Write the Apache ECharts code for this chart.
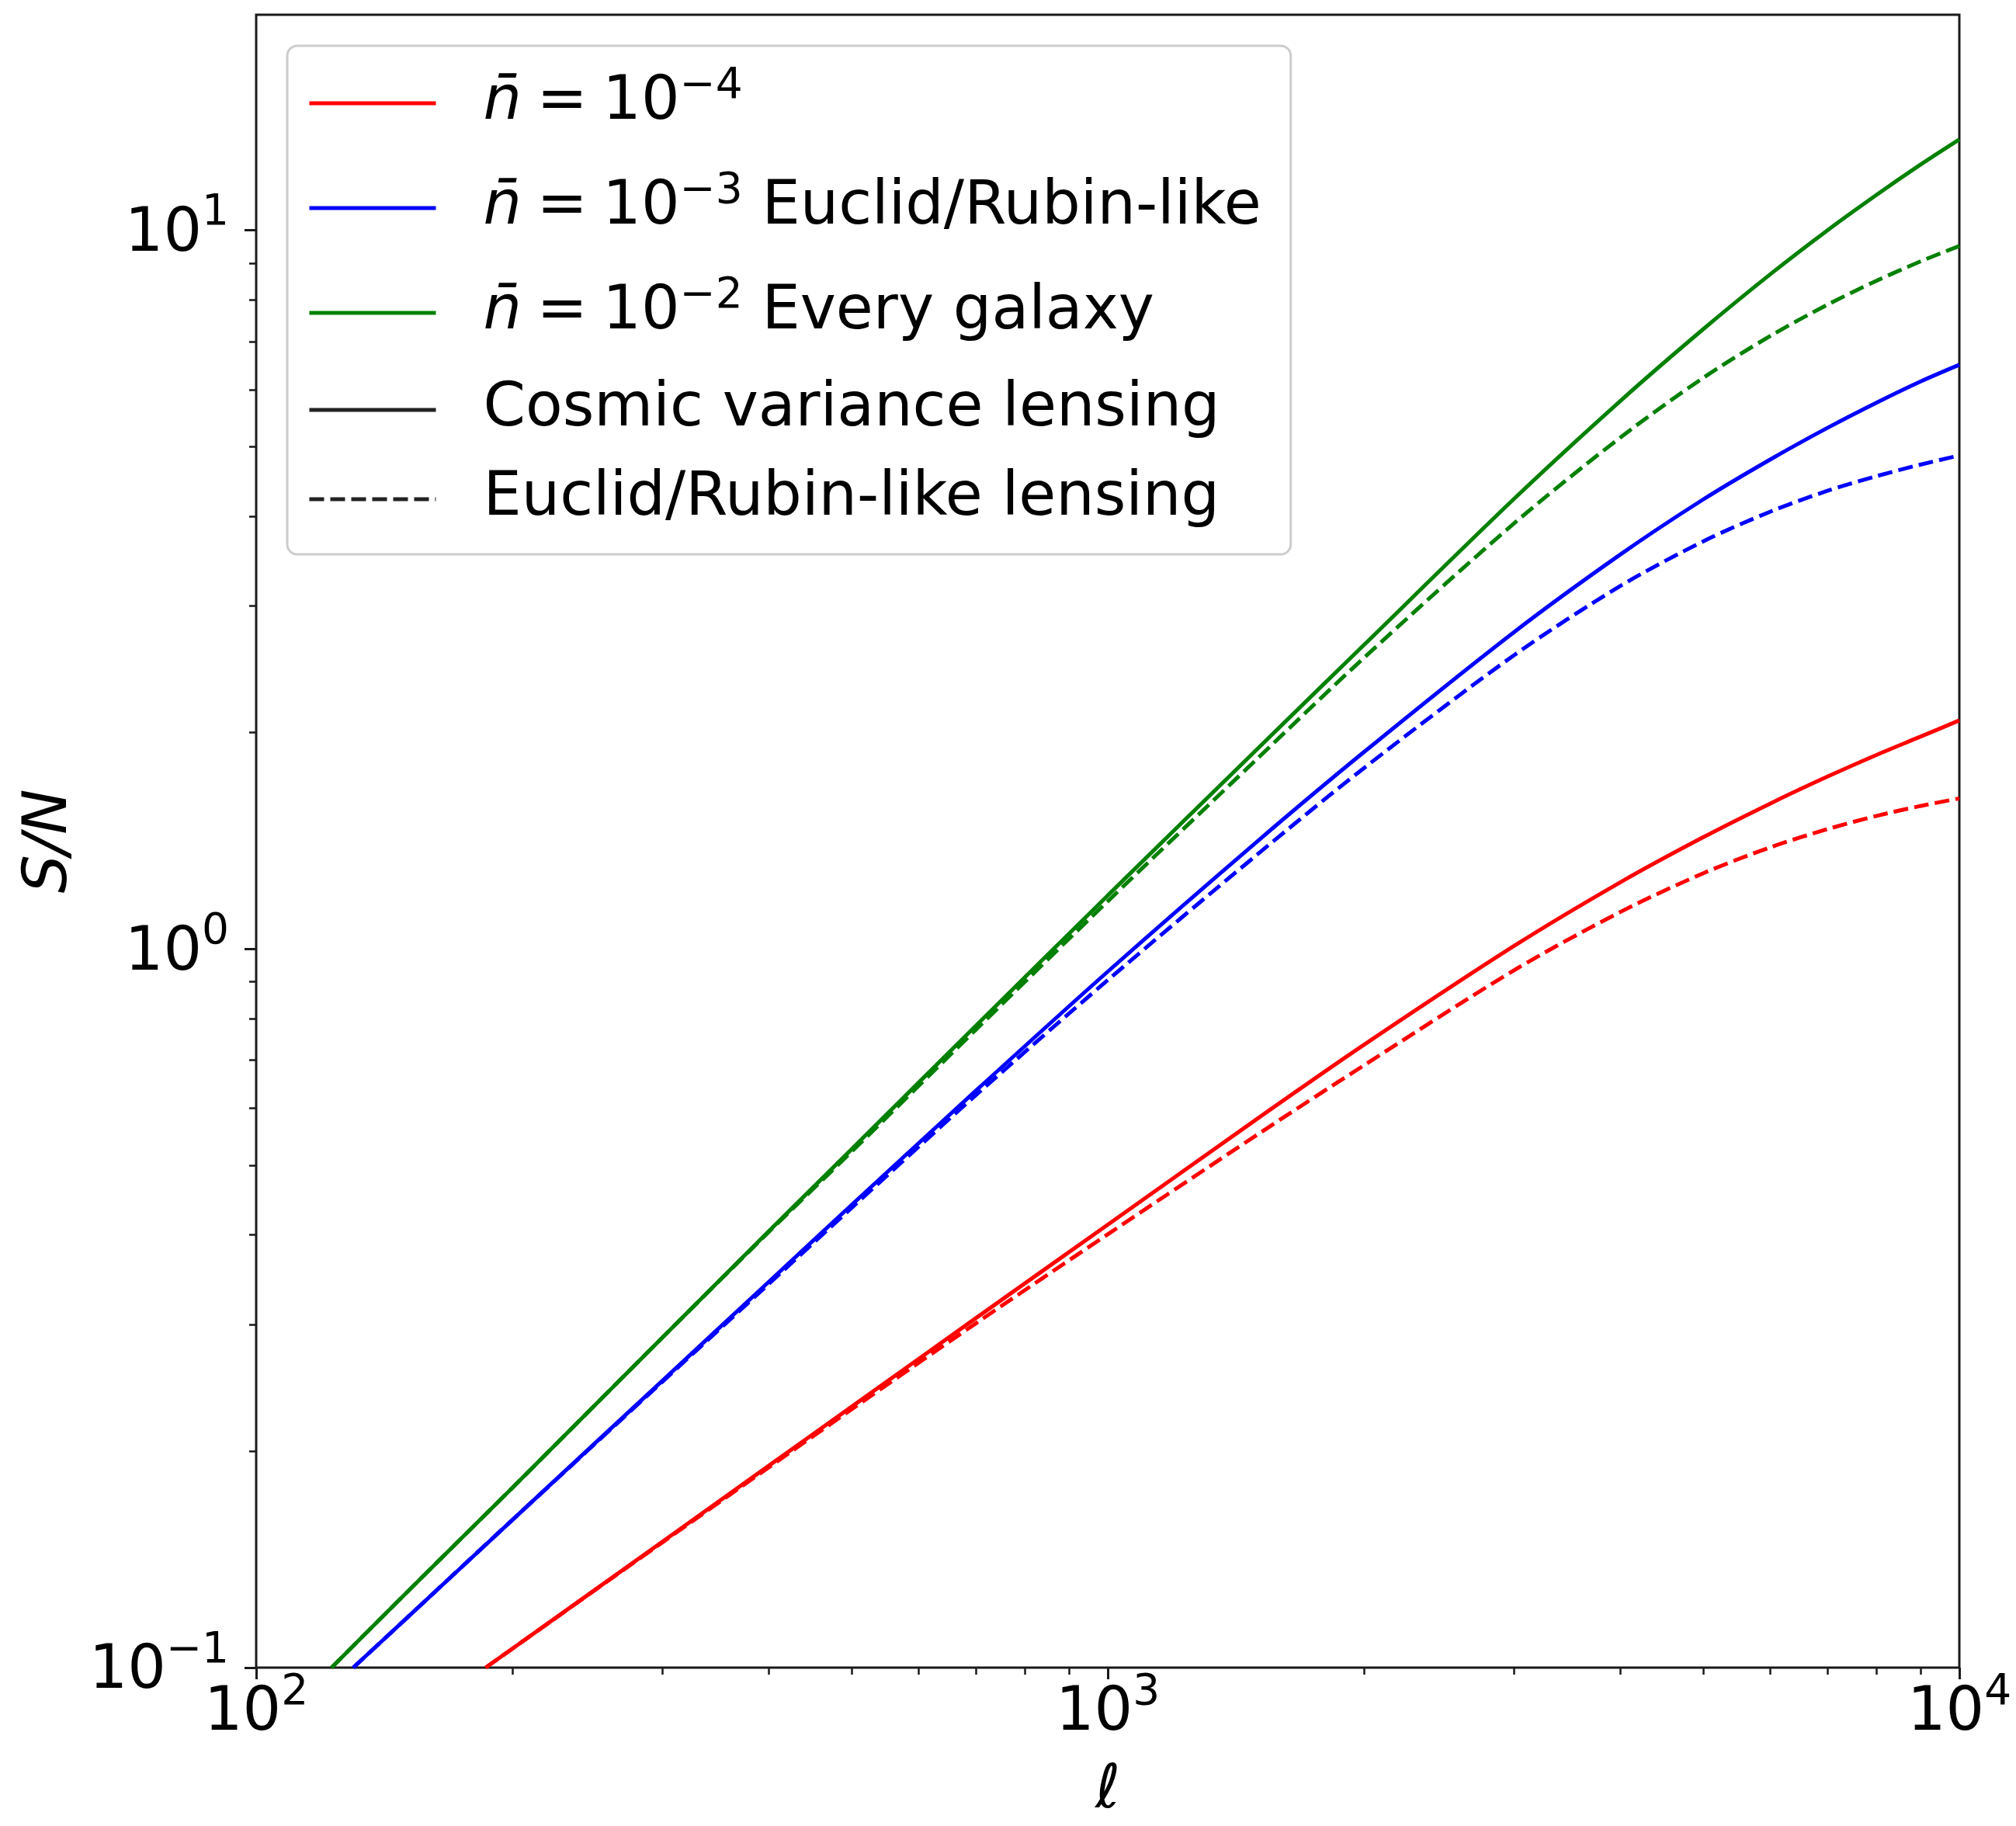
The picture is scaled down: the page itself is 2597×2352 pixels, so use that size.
<!DOCTYPE html>
<html>
<head>
<meta charset="utf-8">
<script src="https://cdn.jsdelivr.net/npm/echarts@6/dist/echarts.min.js"></script>
<style>
html,body{margin:0;padding:0;background:#ffffff;}
#chart{width:2597px;height:2352px;}
</style>
</head>
<body>
<div id="chart"></div>
<script>
// ---- data ----
const ellGreen = [122.6, 150, 200, 300, 400, 500, 700, 1000, 1500, 2000, 3000, 4000, 5000, 6000, 7000, 8000, 9000, 10000];
const snGreenCV = [0.1, 0.127, 0.178, 0.288, 0.405, 0.526, 0.782, 1.187, 1.90, 2.65, 4.23, 5.79, 7.28, 8.69, 10.0, 11.21, 12.34, 13.38];
const snGreenEU = [0.1, 0.127, 0.178, 0.288, 0.404, 0.522, 0.772, 1.165, 1.842, 2.543, 3.91, 5.15, 6.23, 7.13, 7.88, 8.51, 9.05, 9.51];

const ellBlue = [130, 150, 200, 300, 400, 500, 700, 1000, 1500, 2000, 3000, 4000, 5000, 6000, 7000, 8000, 9000, 10000];
const snBlueCV = [0.1, 0.117, 0.1606, 0.2508, 0.3443, 0.4401, 0.6349, 0.930, 1.413, 1.88, 2.76, 3.54, 4.22, 4.80, 5.31, 5.76, 6.16, 6.50];
const snBlueEU = [0.1, 0.117, 0.1606, 0.250, 0.342, 0.436, 0.626, 0.905, 1.355, 1.786, 2.563, 3.20, 3.69, 4.06, 4.34, 4.55, 4.72, 4.86];

const ellRed = [186, 200, 300, 400, 500, 700, 1000, 1500, 2000, 3000, 4000, 5000, 6000, 7000, 8000, 9000, 10000];
const snRedCV = [0.1, 0.1063, 0.1497, 0.1910, 0.2306, 0.3064, 0.4134, 0.581, 0.7358, 1.0097, 1.2385, 1.430, 1.594, 1.737, 1.863, 1.974, 2.08];
const snRedEU = [0.1, 0.1063, 0.1494, 0.1900, 0.2287, 0.3013, 0.4008, 0.552, 0.689, 0.934, 1.126, 1.274, 1.385, 1.468, 1.532, 1.581, 1.620];

// legend / labels
const densityExp = ['\u22124', '\u22123', '\u22122'];
const densitySuffix = ['', ' Euclid/Rubin-like', ' Every galaxy'];
const lensingLabels = ['Cosmic variance lensing', 'Euclid/Rubin-like lensing'];

// axis ticks
const xMajorTicks = [100, 1000, 10000];
const xTickExp = ['2', '3', '4'];
const xMinorTicks = [200, 300, 400, 500, 600, 700, 800, 900, 2000, 3000, 4000, 5000, 6000, 7000, 8000, 9000];
const yMajorTicks = [0.1, 1, 10];
const yTickExp = ['\u22121', '0', '1'];
const yMinorTicks = [0.2, 0.3, 0.4, 0.5, 0.6, 0.7, 0.8, 0.9, 2, 3, 4, 5, 6, 7, 8, 9];

// ---- build ----
const pairs = (xs, ys) => xs.map((x, i) => [x, ys[i]]);
const colors = ['#ff0000', '#0000ff', '#008000'];
const densityNames = densityExp.map((e, i) => 'n\u0304 = 10^' + e + densitySuffix[i]);
const FONT = 'DejaVu Sans';
const INK = '#1a1a1a';
const LW = 5;
const DASH = [19, 8];

function tickLabel(majors, exps) {
  return function (v) {
    let idx = 0, best = Infinity;
    majors.forEach((m, i) => { const d = Math.abs(Math.log10(v) - Math.log10(m)); if (d < best) { best = d; idx = i; } });
    return '{b|10}{s|' + exps[idx] + '}';
  };
}
const tickRich = {
  b: { fontFamily: FONT, fontSize: 78, color: '#000', lineHeight: 78, padding: [12, 0, 0, 0] },
  s: { fontFamily: FONT, fontSize: 55, color: '#000', lineHeight: 55, padding: [0, 0, 43, 0] }
};

function legendFormatter(name) {
  const di = densityNames.indexOf(name);
  if (di >= 0) {
    let s = '{g| }{it|n\u0304}{m|\u2005=\u200510}{sup|' + densityExp[di] + '}';
    if (densitySuffix[di]) s += '{m|' + densitySuffix[di] + '}';
    return s;
  }
  return '{g| }{p|' + name + '}';
}

const series = [];
const sets = [
  [ellRed, snRedCV, snRedEU],
  [ellBlue, snBlueCV, snBlueEU],
  [ellGreen, snGreenCV, snGreenEU]
];
sets.forEach((s, i) => {
  series.push({
    name: densityNames[i], type: 'line', xAxisIndex: 0, yAxisIndex: 0,
    data: pairs(s[0], s[1]), symbol: 'none', smooth: 0.3, clip: true,
    color: colors[i], lineStyle: { color: colors[i], width: LW, type: 'solid' }, z: 3
  });
  series.push({
    name: densityNames[i] + ' (Euclid/Rubin-like lensing)', type: 'line', xAxisIndex: 0, yAxisIndex: 0,
    data: pairs(s[0], s[2]), symbol: 'none', smooth: 0.3, clip: true,
    color: colors[i], lineStyle: { color: colors[i], width: LW, type: DASH }, z: 3
  });
});
series.push({ name: lensingLabels[0], type: 'line', data: [], symbol: 'none', color: '#222', lineStyle: { color: '#222', width: LW, type: 'solid' } });
series.push({ name: lensingLabels[1], type: 'line', data: [], symbol: 'none', color: '#222', lineStyle: { color: '#222', width: LW, type: DASH } });

const option = {
  animation: false,
  backgroundColor: '#ffffff',
  textStyle: { fontFamily: FONT },
  grid: {
    left: 330, right: 73, top: 19, bottom: 195,
    show: true, borderColor: INK, borderWidth: 3, backgroundColor: 'transparent'
  },
  legend: {
    data: densityNames.concat(lensingLabels),
    orient: 'vertical', left: 370, top: 59,
    itemWidth: 163, itemHeight: 8, itemGap: 37,
    padding: [25, 38, 32, 26],
    backgroundColor: 'rgba(255,255,255,0.85)',
    borderColor: '#cccccc', borderWidth: 3, borderRadius: 13,
    selectedMode: false,
    itemStyle: { opacity: 0 },
    lineStyle: { width: LW },
    formatter: legendFormatter,
    textStyle: {
      fontFamily: FONT, fontSize: 78, color: '#000',
      rich: {
        g: { width: 56, fontSize: 10, lineHeight: 10 },
        it: { fontFamily: FONT, fontStyle: 'italic', fontSize: 78, lineHeight: 120, color: '#000' },
        m: { fontFamily: FONT, fontSize: 78, lineHeight: 120, color: '#000' },
        sup: { fontFamily: FONT, fontSize: 55, lineHeight: 55, padding: [0, 0, 43, 0], color: '#000' },
        p: { fontFamily: FONT, fontSize: 78, lineHeight: 100, color: '#000' }
      }
    }
  },
  xAxis: [
    {
      type: 'log', logBase: 10, min: 100, max: 10000, position: 'bottom', gridIndex: 0,
      axisLine: { show: false },
      splitLine: { show: false },
      minorTick: { show: false },
      axisTick: { show: true, customValues: xMajorTicks, length: 15, lineStyle: { color: INK, width: 3 } },
      axisLabel: { show: true, customValues: xMajorTicks, margin: 15, formatter: tickLabel(xMajorTicks, xTickExp), rich: tickRich },
      name: '\u2113', nameLocation: 'middle', nameGap: 121,
      nameTextStyle: { fontFamily: FONT, fontSize: 78, fontStyle: 'italic', color: '#000' }
    },
    {
      type: 'log', logBase: 10, min: 100, max: 10000, position: 'bottom', gridIndex: 0,
      axisLine: { show: false },
      splitLine: { show: false },
      axisLabel: { show: false },
      axisTick: { show: true, customValues: xMinorTicks, length: 9, lineStyle: { color: INK, width: 2.5 } }
    }
  ],
  yAxis: [
    {
      type: 'log', logBase: 10, min: 0.1, max: 19.95, position: 'left', gridIndex: 0,
      axisLine: { show: false },
      splitLine: { show: false },
      minorTick: { show: false },
      axisTick: { show: true, customValues: yMajorTicks, length: 15, lineStyle: { color: INK, width: 3 } },
      axisLabel: { show: true, customValues: yMajorTicks, margin: 35, formatter: tickLabel(yMajorTicks, yTickExp), rich: tickRich },
      name: 'S/N', nameLocation: 'middle', nameGap: 219,
      nameTextStyle: { fontFamily: FONT, fontSize: 78, fontStyle: 'italic', color: '#000' }
    },
    {
      type: 'log', logBase: 10, min: 0.1, max: 19.95, position: 'left', gridIndex: 0,
      axisLine: { show: false },
      splitLine: { show: false },
      axisLabel: { show: false },
      axisTick: { show: true, customValues: yMinorTicks, length: 9, lineStyle: { color: INK, width: 2.5 } }
    }
  ],
  series: series
};

const chart = echarts.init(document.getElementById('chart'), null, { renderer: 'canvas' });
chart.setOption(option);
</script>
</body>
</html>
